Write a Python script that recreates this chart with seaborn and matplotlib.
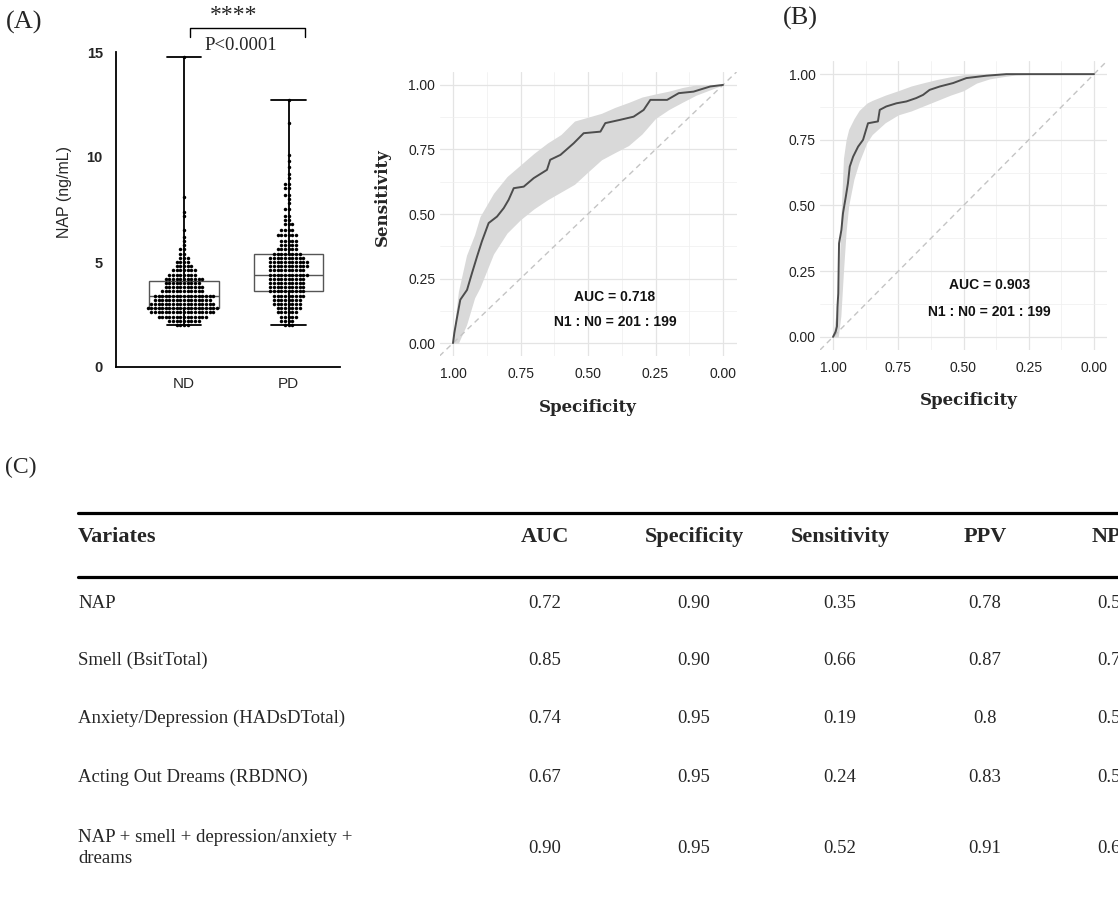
import numpy as np
import pandas as pd
import matplotlib
matplotlib.use("Agg")
import matplotlib.pyplot as plt
from matplotlib.lines import Line2D
from matplotlib.ticker import MultipleLocator, FormatStrFormatter
import seaborn as sns

# ---- panel A: NAP levels (value, number of subjects at that value) ----
groups = ["ND", "PD"]
nap_nd_levels = [2.0, 2.2, 2.4, 2.6, 2.8, 3.0, 3.2, 3.4, 3.6, 3.8, 4.0, 4.2, 4.4, 4.6,
                 4.8, 5.0, 5.2, 5.4, 5.6, 5.8, 6.0, 6.2, 6.5, 7.2, 7.4, 8.1, 14.75]
nap_nd_counts = [4, 9, 14, 18, 20, 18, 16, 17, 12, 11, 10, 11, 8, 7,
                 5, 4, 3, 2, 2, 1, 1, 1, 1, 1, 1, 1, 1]
nap_pd_levels = [2.0, 2.2, 2.4, 2.6, 2.8, 3.0, 3.2, 3.4, 3.6, 3.8, 4.0, 4.2, 4.4, 4.6,
                 4.8, 5.0, 5.2, 5.4, 5.6, 5.8, 6.0, 6.3, 6.5, 6.8, 7.0, 7.2, 7.5, 7.8,
                 8.0, 8.2, 8.5, 8.7, 9.0, 9.2, 9.5, 9.8, 10.1, 11.6, 12.7]
nap_pd_counts = [3, 4, 5, 6, 7, 8, 8, 9, 10, 10, 10, 10, 11, 10,
                 11, 11, 10, 8, 6, 5, 5, 6, 4, 3, 2, 2, 2, 1,
                 1, 2, 2, 2, 1, 1, 1, 1, 1, 1, 1]

# ---- ROC curve, NAP alone ----
roc1_spec = [1.0, 0.995, 0.985, 0.973, 0.948, 0.93, 0.911, 0.893, 0.868, 0.837, 0.812,
             0.794, 0.775, 0.738, 0.701, 0.652, 0.64, 0.602, 0.553, 0.516, 0.454, 0.436,
             0.38, 0.331, 0.294, 0.269, 0.207, 0.164, 0.109, 0.047, 0.0]
roc1_sens = [0.0, 0.04, 0.10, 0.168, 0.206, 0.27, 0.335, 0.394, 0.465, 0.49, 0.523,
             0.555, 0.60, 0.606, 0.639, 0.671, 0.71, 0.729, 0.774, 0.813, 0.819, 0.852,
             0.865, 0.877, 0.903, 0.942, 0.942, 0.968, 0.974, 0.994, 1.0]
band1_spec = [1.0, 0.98, 0.95, 0.92, 0.90, 0.85, 0.80, 0.75, 0.70, 0.65, 0.60, 0.55,
              0.50, 0.45, 0.40, 0.35, 0.30, 0.25, 0.20, 0.15, 0.10, 0.05, 0.0]
band1_lo = [0.0, 0.0, 0.07, 0.175, 0.215, 0.345, 0.426, 0.478, 0.52, 0.555, 0.585, 0.615,
            0.663, 0.71, 0.738, 0.765, 0.81, 0.87, 0.905, 0.933, 0.96, 0.98, 1.0]
band1_hi = [0.02, 0.20, 0.34, 0.42, 0.49, 0.58, 0.645, 0.69, 0.735, 0.775, 0.808, 0.86,
            0.875, 0.89, 0.913, 0.932, 0.953, 0.965, 0.976, 0.99, 1.0, 1.0, 1.0]

# ---- ROC curve, combined model ----
roc2_spec = [1.0, 0.99, 0.985, 0.983, 0.98, 0.977, 0.968, 0.962, 0.951, 0.943, 0.936,
             0.923, 0.904, 0.885, 0.866, 0.828, 0.821, 0.796, 0.757, 0.719, 0.681, 0.655,
             0.63, 0.591, 0.54, 0.489, 0.413, 0.336, 0.0]
roc2_sens = [0.0, 0.02, 0.04, 0.114, 0.165, 0.356, 0.407, 0.47, 0.534, 0.584, 0.648,
             0.686, 0.724, 0.75, 0.813, 0.82, 0.864, 0.877, 0.889, 0.896, 0.909, 0.921,
             0.94, 0.953, 0.966, 0.985, 0.994, 1.0, 1.0]
band2_spec = [1.0, 0.98, 0.97, 0.96, 0.95, 0.94, 0.92, 0.90, 0.87, 0.85, 0.80, 0.75,
              0.70, 0.65, 0.60, 0.55, 0.50, 0.45, 0.40, 0.35, 0.30, 0.20, 0.0]
band2_lo = [0.0, 0.0, 0.08, 0.25, 0.40, 0.50, 0.60, 0.665, 0.74, 0.77, 0.815, 0.845,
            0.86, 0.88, 0.90, 0.92, 0.937, 0.966, 0.982, 0.99, 0.997, 1.0, 1.0]
band2_hi = [0.01, 0.15, 0.45, 0.68, 0.75, 0.79, 0.83, 0.862, 0.89, 0.90, 0.92, 0.937,
            0.955, 0.968, 0.98, 0.99, 0.998, 1.0, 1.0, 1.0, 1.0, 1.0, 1.0]

# ---- panel C table ----
table_header = ["Variates", "AUC", "Specificity", "Sensitivity", "PPV", "NPV"]
variates = ["NAP", "Smell (BsitTotal)", "Anxiety/Depression (HADsDTotal)",
            "Acting Out Dreams (RBDNO)", "NAP + smell + depression/anxiety +\ndreams"]
auc_vals = ["0.72", "0.85", "0.74", "0.67", "0.90"]
spec_vals = ["0.90", "0.90", "0.95", "0.95", "0.95"]
sens_vals = ["0.35", "0.66", "0.19", "0.24", "0.52"]
ppv_vals = ["0.78", "0.87", "0.8", "0.83", "0.91"]
npv_vals = ["0.58", "0.73", "0.54", "0.56", "0.67"]

sns.set_style("white")
plt.rcParams["font.family"] = ["Liberation Sans", "DejaVu Sans"]

W, H = 1118, 905
fig = plt.figure(figsize=(W / 100, H / 100), dpi=100)


def fx(px):
    return px / W


def fy(py):
    return 1 - py / H


def box(l, t, r, b):
    return [fx(l), fy(b), fx(r) - fx(l), fy(t) - fy(b)]


SERIF = "Liberation Serif"

# ================= panel A =================
nap = pd.DataFrame({
    "group": ["ND"] * sum(nap_nd_counts) + ["PD"] * sum(nap_pd_counts),
    "nap": np.concatenate([np.repeat(nap_nd_levels, nap_nd_counts),
                           np.repeat(nap_pd_levels, nap_pd_counts)]),
})

axA = fig.add_axes(box(116, 52, 340, 367))
sns.boxplot(data=nap, x="group", y="nap", order=groups, whis=(0, 100),
            showfliers=False, width=0.66, color="white", linecolor="#555555",
            linewidth=1.0, whiskerprops=dict(color="black", linewidth=1.3),
            capprops=dict(color="black", linewidth=1.3), ax=axA)
sns.swarmplot(data=nap, x="group", y="nap", order=groups, color="black", size=2.5,
              ax=axA, zorder=3)
axA.set_xlim(-0.65, 1.49)
axA.set_ylim(0, 15)
axA.set_yticks([0, 5, 10, 15])
axA.yaxis.set_minor_locator(MultipleLocator(1))
axA.tick_params(axis="y", which="major", length=6, width=1.1, labelsize=10.5)
axA.tick_params(axis="y", which="minor", length=5, width=1.1)
axA.tick_params(axis="x", length=4, width=1.1, labelsize=11)
for lab in axA.get_yticklabels():
    lab.set_fontweight("bold")
for s in ["top", "right"]:
    axA.spines[s].set_visible(False)
for s in ["left", "bottom"]:
    axA.spines[s].set_linewidth(1.3)
    axA.spines[s].set_color("black")
axA.set_xlabel("")
axA.set_ylabel("NAP (ng/mL)", fontsize=11.5)
axA.yaxis.set_label_coords(-0.196, 0.556)

# significance bracket
axA.plot([0.06, 0.06, 1.16, 1.16], [15.71, 16.14, 16.14, 15.71], color="black",
         lw=1.0, clip_on=False)
axA.text(0.47, 16.76, "****", ha="center", va="center", fontsize=17, family=SERIF)
axA.text(0.54, 15.33, "P<0.0001", ha="center", va="center", fontsize=13.5, family=SERIF)


# ================= ROC panels =================
def roc_panel(rect, spec, sens, b_spec, b_lo, b_hi, auc_text, lab_y, ylabel, xlab):
    ax = fig.add_axes(rect)
    ax.set_xlim(1.05, -0.05)
    ax.set_ylim(-0.05, 1.05)
    ticks = [0, 0.25, 0.5, 0.75, 1.0]
    ax.set_xticks(ticks)
    ax.set_yticks(ticks)
    ax.set_xticks([0.125, 0.375, 0.625, 0.875], minor=True)
    ax.set_yticks([0.125, 0.375, 0.625, 0.875], minor=True)
    ax.xaxis.set_major_formatter(FormatStrFormatter("%.2f"))
    ax.yaxis.set_major_formatter(FormatStrFormatter("%.2f"))
    ax.grid(which="major", color="#e4e4e4", lw=0.9)
    ax.grid(which="minor", color="#efefef", lw=0.5)
    ax.set_axisbelow(True)
    ax.tick_params(which="both", length=0, labelsize=10, labelcolor="#222222")
    ax.tick_params(axis="x", pad=8)
    ax.tick_params(axis="y", pad=3)
    for s in ax.spines.values():
        s.set_visible(False)
    ax.fill_between(b_spec, b_lo, b_hi, color="#d9d9d9", lw=0, zorder=1)
    ax.plot([1.05, -0.05], [-0.05, 1.05], ls=(0, (4, 3)), color="#c4c4c4", lw=1.0,
            zorder=2)
    roc = pd.DataFrame({"spec": spec, "sens": sens})
    sns.lineplot(data=roc, x="spec", y="sens", sort=False, estimator=None,
                 color="#4d4d4d", lw=1.4, ax=ax, zorder=3)
    ax.text(0.4, lab_y[0], auc_text, ha="center", va="center", fontsize=10,
            fontweight="bold", color="#111111")
    ax.text(0.4, lab_y[1], "N1 : N0 = 201 : 199", ha="center", va="center",
            fontsize=10, fontweight="bold", color="#111111")
    ax.set_xlabel("Specificity", fontsize=12, fontweight="bold", family="DejaVu Serif")
    ax.xaxis.set_label_coords(*xlab)
    if ylabel:
        ax.set_ylabel("Sensitivity", fontsize=12, fontweight="bold",
                      family="DejaVu Serif")
        ax.yaxis.set_label_coords(-0.163, 0.56)
    else:
        ax.set_ylabel("")
    return ax


roc_panel(box(439.5, 72, 736.5, 356), roc1_spec, roc1_sens, band1_spec, band1_lo,
          band1_hi, "AUC = 0.718", (0.178, 0.081), True, (0.5, -0.151))
roc_panel(box(820, 61, 1107, 350), roc2_spec, roc2_sens, band2_spec, band2_lo,
          band2_hi, "AUC = 0.903", (0.197, 0.095), False, (0.52, -0.146))

# ================= panel letters =================
fig.text(fx(6), fy(22), "(A)", ha="left", va="center", fontsize=19, family=SERIF)
fig.text(fx(783), fy(18), "(B)", ha="left", va="center", fontsize=19, family=SERIF)
fig.text(fx(5), fy(467), "(C)", ha="left", va="center", fontsize=17, family=SERIF)

# ================= panel C table =================
fig.add_artist(Line2D([fx(78), 1.0], [fy(513), fy(513)], color="black", lw=2.3))
fig.add_artist(Line2D([fx(78), 1.0], [fy(577), fy(577)], color="black", lw=2.3))
col_x = [78, 545, 694, 840, 985, 1114]
header_y = 537
row_y = [603, 660, 718, 777, 848]
for i, h in enumerate(table_header):
    fig.text(fx(col_x[i]), fy(header_y), h, ha="left" if i == 0 else "center",
             va="center", fontsize=16, fontweight="bold", family=SERIF)
columns = [auc_vals, spec_vals, sens_vals, ppv_vals, npv_vals]
for r, name in enumerate(variates):
    fig.text(fx(col_x[0]), fy(row_y[r]), name, ha="left", va="center", fontsize=13.5,
             family=SERIF, linespacing=1.35)
    for c, vals in enumerate(columns):
        fig.text(fx(col_x[c + 1]), fy(row_y[r]), vals[r], ha="center", va="center",
                 fontsize=13.5, family=SERIF)

fig.savefig("out.png", dpi=100)
